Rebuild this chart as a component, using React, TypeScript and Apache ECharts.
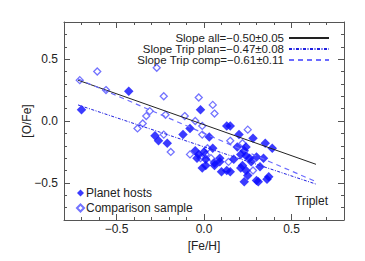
import React, { useEffect, useRef } from "react";
import * as echarts from "echarts";

const xTicksMajor = [-0.5, 0, 0.5];
const xTicksMinor = [-0.7, -0.6, -0.4, -0.3, -0.2, -0.1, 0.1, 0.2, 0.3, 0.4, 0.6, 0.7];
const yTicksMajor = [-0.5, 0, 0.5];
const yTicksMinor = [-0.7, -0.6, -0.4, -0.3, -0.2, -0.1, 0.1, 0.2, 0.3, 0.4, 0.6, 0.7];

const planetHosts: [number, number][] = [
  [-0.70, 0.09], [-0.43, 0.24], [-0.02, 0.09], [-0.28, -0.12], [-0.26, -0.16],
  [-0.21, -0.18], [-0.12, -0.11], [-0.08, -0.06], [0.03, -0.13], [0.13, -0.04],
  [0.15, -0.04], [0.20, -0.11], [0.19, -0.21], [0.24, -0.21], [0.28, -0.14],
  [0.35, -0.18], [0.39, -0.22], [-0.05, -0.24], [-0.03, -0.27], [0.00, -0.25],
  [0.05, -0.22], [0.01, -0.36], [-0.01, -0.38], [0.06, -0.34], [0.09, -0.33],
  [0.10, -0.41], [0.13, -0.40], [0.15, -0.41], [0.17, -0.31], [0.21, -0.27],
  [0.24, -0.28], [0.26, -0.30], [0.30, -0.29], [0.34, -0.30], [0.32, -0.37],
  [0.21, -0.38], [0.24, -0.40], [0.25, -0.44], [0.23, -0.49], [0.30, -0.48],
  [0.31, -0.49], [0.36, -0.47], [0.37, -0.45], [0.27, -0.33], [0.01, -0.31],
  [0.22, -0.36], [0.23, -0.24], [0.06, -0.36], [-0.04, -0.30], [0.09, -0.30]
];

const comparison: [number, number][] = [
  [-0.71, 0.33], [-0.61, 0.40], [-0.27, 0.43], [-0.23, 0.20], [-0.03, 0.19],
  [0.05, 0.13], [0.06, 0.06], [-0.31, 0.08], [-0.33, 0.04], [-0.35, -0.02],
  [-0.38, -0.06], [-0.22, 0.05], [-0.11, 0.04], [-0.05, 0.00], [-0.01, -0.04],
  [-0.01, -0.11], [-0.23, -0.11], [-0.19, -0.25], [-0.08, -0.27], [0.01, -0.27],
  [0.04, -0.30], [0.15, -0.16], [0.22, -0.18], [0.25, -0.07], [0.14, -0.33],
  [0.28, -0.40], [-0.56, 0.25], [0.02, -0.22], [-0.02, -0.30]
];

const fitAll: [number, number][] = [[-0.72, 0.33], [0.64, -0.35]];
const fitTripPlan: [number, number][] = [[-0.72, 0.13], [0.64, -0.51]];
const fitTripComp: [number, number][] = [[-0.72, 0.34], [0.64, -0.49]];

const nameAll = "Slope all=\u22120.50\u00b10.05";
const namePlan = "Slope Trip plan=\u22120.47\u00b10.08";
const nameComp = "Slope Trip comp=\u22120.61\u00b10.11";
const namePlanet = "Planet hosts";
const nameCompSample = "Comparison sample";

const FONT = "Liberation Sans";
const AXIS_COLOR = "#555";
const TEXT_COLOR = "#222";

const fmt = (v: number) => (v < 0 ? "\u2212" : "") + Math.abs(v).toFixed(1);

function mkAxis(dim: "x" | "y", pos: string, major: boolean, labels: boolean, name?: string) {
  const ticks = dim === "x" ? (major ? xTicksMajor : xTicksMinor) : (major ? yTicksMajor : yTicksMinor);
  const ax: any = {
    type: "value",
    min: -0.8,
    max: 0.8,
    position: pos,
    splitLine: { show: false },
    axisLine: { show: major, onZero: false, lineStyle: { color: AXIS_COLOR, width: 1 } },
    axisTick: {
      show: true,
      inside: true,
      length: major ? 6 : 3,
      customValues: ticks,
      lineStyle: { color: AXIS_COLOR, width: 1 }
    },
    axisLabel: labels
      ? {
          show: true,
          customValues: dim === "x" ? xTicksMajor : yTicksMajor,
          formatter: fmt,
          color: TEXT_COLOR,
          fontFamily: FONT,
          fontSize: 12,
          margin: dim === "x" ? 3 : 6
        }
      : { show: false }
  };
  if (name) {
    ax.name = name;
    ax.nameLocation = "middle";
    ax.nameMoveOverlap = false;
    ax.nameGap = dim === "x" ? 20 : 31;
    ax.nameTextStyle = { color: TEXT_COLOR, fontFamily: FONT, fontSize: 12 };
  }
  return ax;
}

function lineLegend(name: string, top: number) {
  return {
    data: [name],
    right: 35,
    top,
    padding: 0,
    align: "right",
    itemWidth: 40,
    itemHeight: 9,
    itemGap: 0,
    selectedMode: false,
    itemStyle: { opacity: 0 },
    textStyle: { color: TEXT_COLOR, fontFamily: FONT, fontSize: 11.5, lineHeight: 10, padding: 0 }
  };
}

export default function App() {
  const ref = useRef<HTMLDivElement>(null);
  useEffect(() => {
    if (!ref.current) return;
    const chart = echarts.init(ref.current, undefined, { renderer: "svg" });
    chart.setOption({
      animation: false,
      backgroundColor: "#fff",
      grid: { left: 64, right: 21, top: 22, bottom: 41 },
      xAxis: [
        mkAxis("x", "bottom", true, true, "[Fe/H]"),
        mkAxis("x", "bottom", false, false),
        mkAxis("x", "top", true, false),
        mkAxis("x", "top", false, false)
      ],
      yAxis: [
        mkAxis("y", "left", true, true, "[O/Fe]"),
        mkAxis("y", "left", false, false),
        mkAxis("y", "right", true, false),
        mkAxis("y", "right", false, false)
      ],
      title: {
        text: "Triplet",
        right: 37,
        top: 195,
        padding: 0,
        textStyle: { color: TEXT_COLOR, fontFamily: FONT, fontSize: 12, fontWeight: "normal" }
      },
      legend: [
        lineLegend(nameAll, 32),
        lineLegend(namePlan, 43),
        lineLegend(nameComp, 54),
        {
          data: [namePlanet, nameCompSample],
          orient: "vertical",
          left: 76,
          top: 187,
          padding: 0,
          itemWidth: 7,
          itemHeight: 7,
          itemGap: 3,
          selectedMode: false,
          textStyle: { color: TEXT_COLOR, fontFamily: FONT, fontSize: 12, lineHeight: 10, padding: [0, 0, 0, -3] }
        }
      ],
      series: [
        {
          name: nameCompSample,
          type: "scatter",
          data: comparison,
          symbol: "diamond",
          symbolSize: 7,
          itemStyle: { color: "#fff", borderColor: "#5050ff", borderWidth: 1.3 },
          z: 2
        },
        {
          name: namePlanet,
          type: "scatter",
          data: planetHosts,
          symbol: "diamond",
          symbolSize: 9.5,
          itemStyle: { color: "#0a0aff" },
          z: 3
        },
        {
          name: nameAll,
          type: "line",
          data: fitAll,
          symbol: "none",
          itemStyle: { color: "#222" },
          lineStyle: { color: "#222", width: 1 },
          z: 4
        },
        {
          name: namePlan,
          type: "line",
          data: fitTripPlan,
          symbol: "none",
          itemStyle: { color: "#2020e0" },
          lineStyle: { color: "#2020e0", width: 1, type: [3, 1.5, 1, 1.5] },
          z: 4
        },
        {
          name: nameComp,
          type: "line",
          data: fitTripComp,
          symbol: "none",
          itemStyle: { color: "#6b6bff" },
          lineStyle: { color: "#6b6bff", width: 1.2, type: [5, 4] },
          z: 4
        }
      ]
    });
    return () => chart.dispose();
  }, []);
  return (
    <div
      ref={ref}
      style={{ position: "absolute", left: 0, top: 0, width: 365, height: 261 }}
    />
  );
}
